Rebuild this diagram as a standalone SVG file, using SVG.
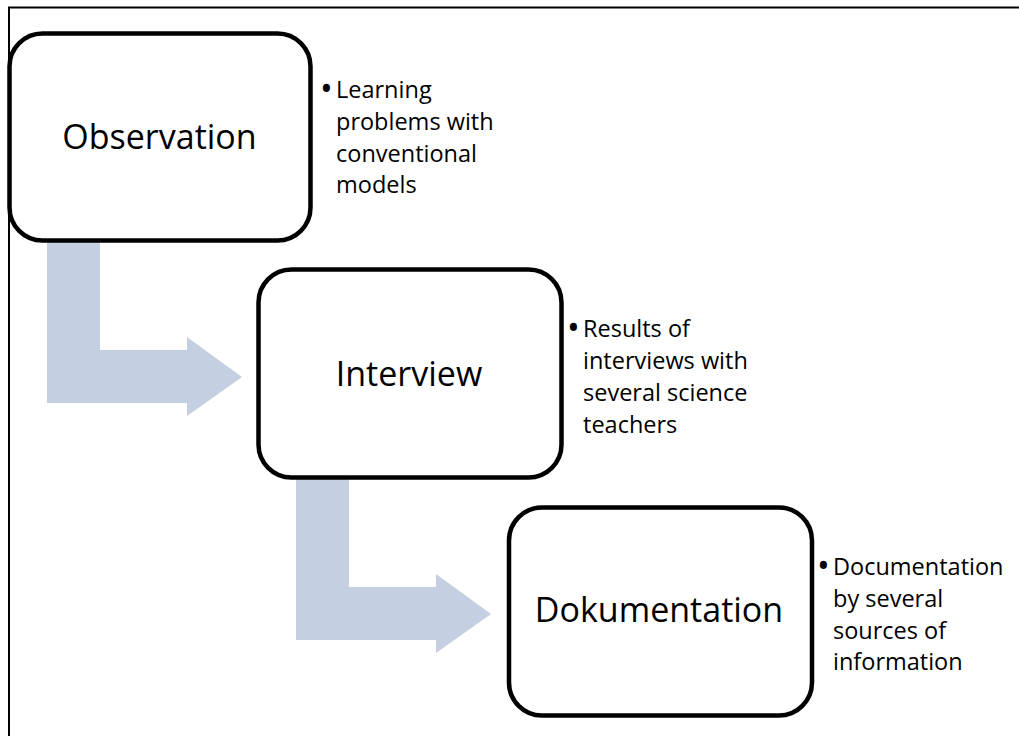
<svg xmlns="http://www.w3.org/2000/svg" width="1019" height="736" viewBox="0 0 1019 736">
  <style>
    .frame { fill: none; stroke: #000; stroke-width: 2; }
    .box { fill: #fff; stroke: #000; stroke-width: 4.5; }
    .flow { fill: #C5CFE2; stroke: none; }
    .title { font-family: "Open Sans", "Noto Sans", sans-serif; font-size: 34px; fill: #000; text-anchor: middle; }
    .note { font-family: "Open Sans", "Noto Sans", sans-serif; font-size: 23.5px; fill: #000; }
    .dot { font-size: 34px; }
  </style>
  <rect width="1019" height="736" fill="#fff"/>
  <path class="frame" d="M9,736 V7.5 H1019"/>

  <!-- bent arrows between steps -->
  <g id="connectors">
    <path class="flow" d="M47,238 H100 V350 H187 V337 L242,377 L187,416 V403 H47 Z"/>
    <path class="flow" d="M296,475 H349 V587 H436 V574 L491,614 L436,653 V640 H296 Z"/>
  </g>

  <g id="observation">
    <rect class="box" x="9.5" y="33.5" width="301" height="207" rx="33"/>
    <text class="title" x="159.5" y="149">Observation</text>
    <text class="note">
      <tspan class="dot" x="320" y="101">•</tspan><tspan x="336" y="98">Learning</tspan>
      <tspan x="336" y="130">problems with</tspan>
      <tspan x="336" y="162">conventional</tspan>
      <tspan x="336" y="193">models</tspan>
    </text>
  </g>

  <g id="interview">
    <rect class="box" x="258.5" y="269.5" width="303" height="208" rx="33"/>
    <text class="title" x="409" y="386">Interview</text>
    <text class="note">
      <tspan class="dot" x="567" y="340">•</tspan><tspan x="583" y="337">Results of</tspan>
      <tspan x="583" y="369">interviews with</tspan>
      <tspan x="583" y="401">several science</tspan>
      <tspan x="583" y="433">teachers</tspan>
    </text>
  </g>

  <g id="dokumentation">
    <rect class="box" x="509" y="507.5" width="303" height="208" rx="33"/>
    <text class="title" x="659" y="622">Dokumentation</text>
    <text class="note">
      <tspan class="dot" x="817" y="578">•</tspan><tspan x="833" y="575">Documentation</tspan>
      <tspan x="833" y="607">by several</tspan>
      <tspan x="833" y="639">sources of</tspan>
      <tspan x="833" y="670">information</tspan>
    </text>
  </g>
</svg>
